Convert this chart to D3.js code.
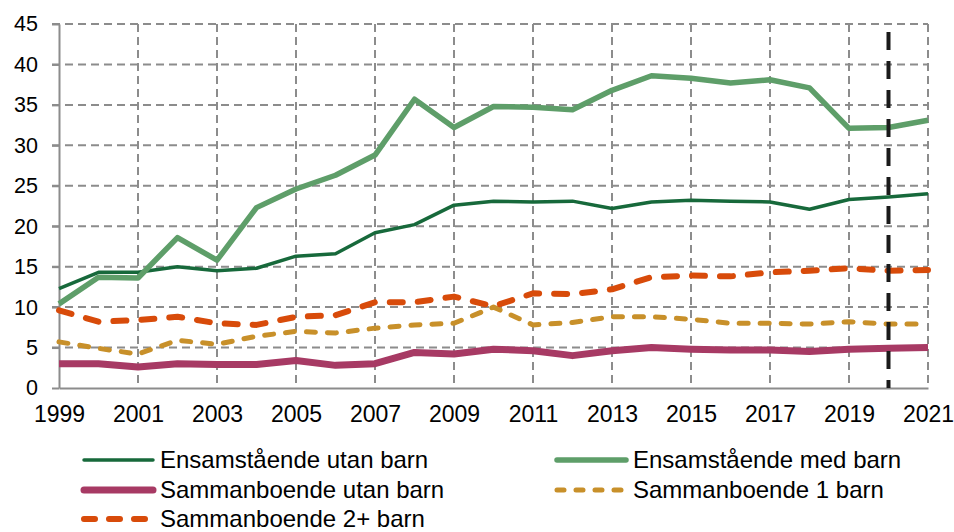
<!DOCTYPE html>
<html>
<head>
<meta charset="utf-8">
<script src="https://cdn.jsdelivr.net/npm/d3@7"></script>
<style>
  body { margin: 0; background: #fff; }
  svg { display: block; font-family: "Liberation Sans", Arial, sans-serif; }
  .grid line { stroke: #8c8c8c; stroke-width: 2; stroke-dasharray: 8 5; }
  .axis path, .axis line { stroke: #8c8c8c; stroke-width: 2; }
  .axis text { fill: #000; }
</style>
</head>
<body>
<div id="chart"></div>
<script>
// Years on the x axis
const years = d3.range(1999, 2022);

// Series values
const ensamUtan = [12.3, 14.3, 14.3, 15.0, 14.5, 14.8, 16.3, 16.6, 19.2, 20.2, 22.6, 23.1, 23.0, 23.1, 22.2, 23.0, 23.2, 23.1, 23.0, 22.1, 23.3, 23.6, 24.0];
const ensamMed = [10.4, 13.7, 13.6, 18.6, 15.8, 22.3, 24.6, 26.3, 28.8, 35.7, 32.2, 34.8, 34.7, 34.4, 36.8, 38.6, 38.3, 37.7, 38.1, 37.1, 32.1, 32.2, 33.1];
const sambUtan = [3.0, 3.0, 2.6, 3.0, 2.9, 2.9, 3.4, 2.8, 3.0, 4.4, 4.2, 4.8, 4.6, 4.0, 4.6, 5.0, 4.8, 4.7, 4.7, 4.5, 4.8, 4.9, 5.0];
const samb1 = [5.7, 4.9, 4.2, 5.9, 5.4, 6.4, 7.0, 6.8, 7.4, 7.8, 8.0, 10.0, 7.8, 8.1, 8.8, 8.8, 8.5, 8.0, 8.0, 7.9, 8.2, 7.9, 7.9];
const samb2 = [9.6, 8.2, 8.4, 8.8, 8.0, 7.8, 8.8, 9.0, 10.6, 10.6, 11.3, 10.1, 11.7, 11.6, 12.2, 13.7, 13.9, 13.8, 14.3, 14.5, 14.8, 14.5, 14.6];

const yTicks = d3.range(0, 50, 5);
const xTicks = d3.range(1999, 2022, 2);
const markerYear = 2020;

const series = [
  { name: "Ensamstående utan barn", values: ensamUtan, color: "#17693b", width: 3.5, dash: null, legendDash: null },
  { name: "Ensamstående med barn", values: ensamMed, color: "#5e9e69", width: 5.5, dash: null, legendDash: null },
  { name: "Sammanboende utan barn", values: sambUtan, color: "#a73a64", width: 7, dash: null, legendDash: null },
  { name: "Sammanboende 1 barn", values: samb1, color: "#c8902a", width: 5, dash: "9 12", legendDash: "7 12" },
  { name: "Sammanboende 2+ barn", values: samb2, color: "#d84b0a", width: 6, dash: "13 15", legendDash: "11 14" }
];

const W = 954, H = 532;
const margin = { top: 24, right: 26, bottom: 144, left: 59 };
const width = W - margin.left - margin.right,
  height = H - margin.top - margin.bottom;

const svg = d3.select("#chart").append("svg")
  .attr("width", W)
  .attr("height", H);

const g = svg.append("g")
  .attr("transform", "translate(" + margin.left + "," + margin.top + ")");

const x = d3.scaleLinear().domain([1999, 2021]).range([0, width]);
const y = d3.scaleLinear().domain([0, 45]).range([height, 0]);

// Grid
g.append("g").attr("class", "grid")
  .selectAll("line")
  .data(yTicks.filter(d => d > 0))
  .enter().append("line")
  .attr("x1", -7).attr("x2", width)
  .attr("y1", d => y(d)).attr("y2", d => y(d));

g.append("g").attr("class", "grid")
  .selectAll("line")
  .data(xTicks.filter(d => d > 1999))
  .enter().append("line")
  .attr("x1", d => x(d)).attr("x2", d => x(d))
  .attr("y1", 0).attr("y2", height);

// Axes
const yAxis = g.append("g").attr("class", "axis")
  .call(d3.axisLeft(y).tickValues(yTicks).tickSize(7).tickSizeOuter(0).tickPadding(14));
yAxis.selectAll("text").style("font-size", "21.5px");

const xAxis = g.append("g").attr("class", "axis")
  .attr("transform", "translate(0," + height + ")")
  .call(d3.axisBottom(x).tickValues(xTicks).tickFormat(d3.format("d")).tickSize(0).tickSizeOuter(0).tickPadding(18));
xAxis.selectAll("text").style("font-size", "23px");

// Lines
const line = d3.line()
  .x((d, i) => x(years[i]))
  .y(d => y(d));

series.forEach(s => {
  g.append("path")
    .datum(s.values)
    .attr("fill", "none")
    .attr("stroke", s.color)
    .attr("stroke-width", s.width)
    .attr("stroke-linejoin", "round")
    .attr("stroke-linecap", s.dash ? "round" : "butt")
    .attr("stroke-dasharray", s.dash)
    .attr("d", line);
});

// Vertical marker line
g.append("line")
  .attr("x1", x(markerYear)).attr("x2", x(markerYear))
  .attr("y1", y(44)).attr("y2", height)
  .attr("stroke", "#1a1a1a")
  .attr("stroke-width", 4)
  .attr("stroke-dasharray", "18 11");

// Legend
const legendPos = [
  { x: 84, y: 460 }, { x: 557, y: 460 },
  { x: 84, y: 490 }, { x: 557, y: 490 },
  { x: 84, y: 519 }
];
const legend = svg.append("g");
series.forEach((s, i) => {
  const p = legendPos[i];
  legend.append("line")
    .attr("x1", p.x).attr("x2", p.x + 69)
    .attr("y1", p.y).attr("y2", p.y)
    .attr("stroke", s.color)
    .attr("stroke-width", s.width)
    .attr("stroke-linecap", "round")
    .attr("stroke-dasharray", s.legendDash);
  legend.append("text")
    .attr("x", p.x + 76)
    .attr("y", p.y)
    .attr("dy", "0.35em")
    .style("font-size", "24px")
    .text(s.name);
});
</script>
</body>
</html>
